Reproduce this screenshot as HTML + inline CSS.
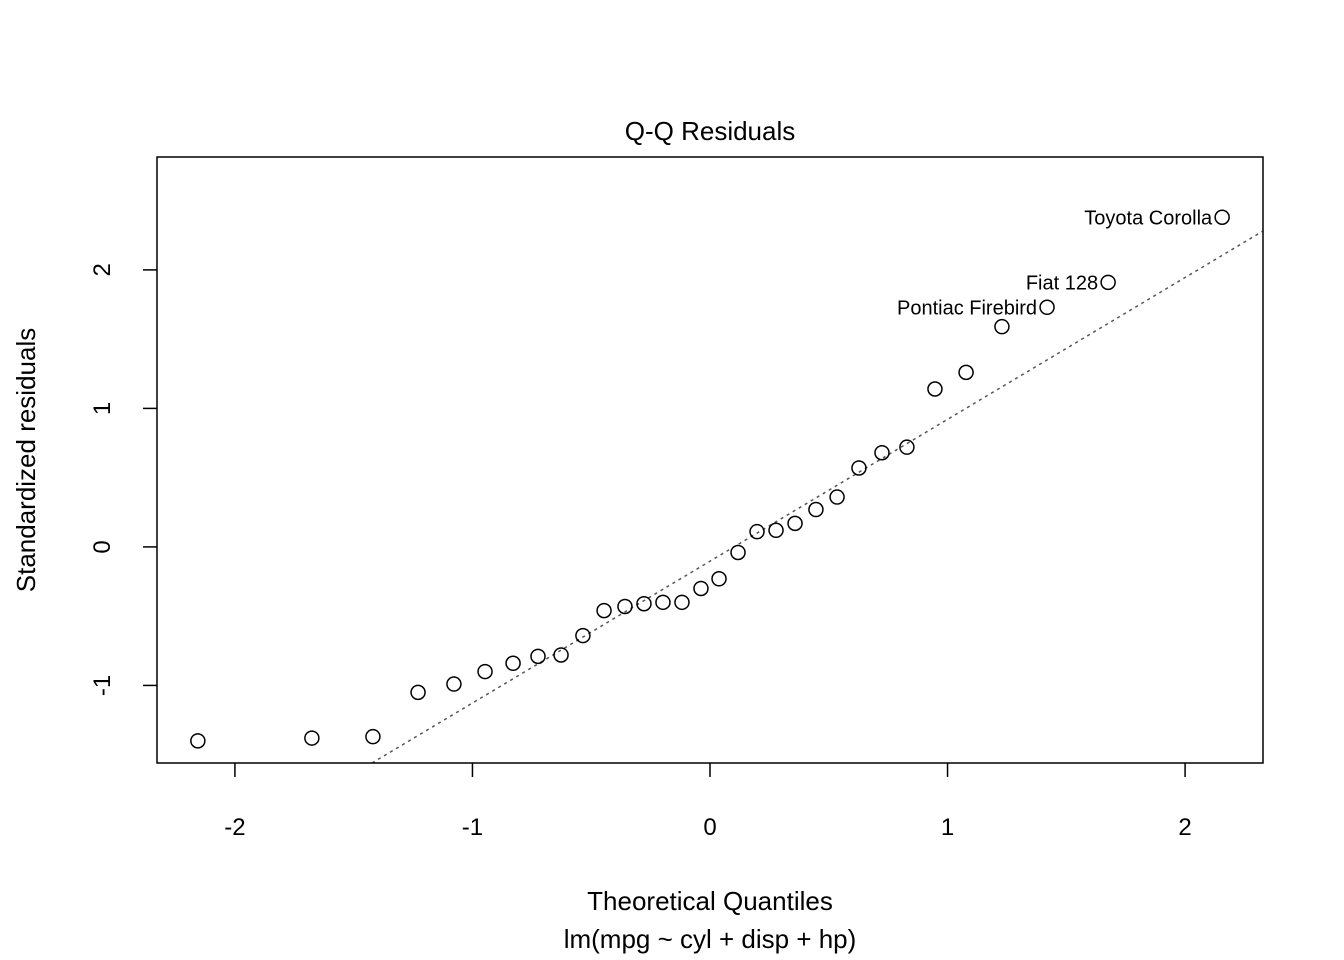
<!DOCTYPE html>
<html><head><meta charset="utf-8"><style>
html,body{margin:0;padding:0;background:#fff}
svg{display:block;font-family:"Liberation Sans",Arial,sans-serif}
</style></head><body>
<svg id="chart" width="1344" height="960" xmlns="http://www.w3.org/2000/svg">
<rect x="0" y="0" width="1344" height="960" fill="#fff"/>
<text x="710" y="140" font-size="26" text-anchor="middle">Q-Q Residuals</text>
<text x="710" y="910" font-size="26" text-anchor="middle">Theoretical Quantiles</text>
<text x="710" y="948" font-size="26" text-anchor="middle">lm(mpg ~ cyl + disp + hp)</text>
<text transform="translate(35,460) rotate(-90)" font-size="26" text-anchor="middle">Standardized residuals</text>
<g id="marks"></g>
<rect x="157" y="157" width="1106" height="606" fill="none" stroke="#000" stroke-width="1.5"/>
</svg>
<script>
const xQuantiles=[-2.156,-1.676,-1.419,-1.229,-1.078,-0.947,-0.829,-0.724,-0.627,-0.535,-0.446,-0.358,-0.278,-0.198,-0.118,-0.038,0.038,0.118,0.198,0.278,0.358,0.446,0.535,0.627,0.724,0.829,0.947,1.078,1.229,1.419,1.676,2.156];
const yResiduals=[-1.40,-1.38,-1.37,-1.05,-0.99,-0.90,-0.84,-0.79,-0.78,-0.64,-0.46,-0.43,-0.41,-0.40,-0.40,-0.30,-0.23,-0.04,0.11,0.12,0.17,0.27,0.36,0.57,0.68,0.72,1.14,1.26,1.59,1.73,1.91,2.38];
const pointLabels={29:"Pontiac Firebird",30:"Fiat 128",31:"Toyota Corolla"};
const xTicks=[-2,-1,0,1,2];
const yTicks=[-1,0,1,2];
const lineSlope=1.024, lineIntercept=-0.103;
const X0=157,X1=1263,Y0=763,Y1=157,xMin=-2.328,xMax=2.328,yMin=-1.56,yMax=2.815;
const sx=v=>X0+(v-xMin)/(xMax-xMin)*(X1-X0);
const sy=v=>Y0-(v-yMin)/(yMax-yMin)*(Y0-Y1);
const NS="http://www.w3.org/2000/svg";
const g=document.getElementById('marks');
function mk(t,a){const e=document.createElementNS(NS,t);for(const k in a)e.setAttribute(k,a[k]);g.appendChild(e);return e;}
xTicks.forEach(t=>{
  const l=mk('line',{x1:sx(t),x2:sx(t),y1:763,y2:777,stroke:'#000','stroke-width':1.5});
  
  
  const tx=mk('text',{x:sx(t),y:835,'font-size':24,'text-anchor':'middle'});tx.textContent=t;
  
  
});
yTicks.forEach(t=>{
  const l=mk('line',{x1:143,x2:157,y1:sy(t),y2:sy(t),stroke:'#000','stroke-width':1.5});
  
  
  const tx=mk('text',{transform:`translate(110,${sy(t)}) rotate(-90)`,'font-size':24,'text-anchor':'middle'});tx.textContent=t;
  
  
});
// reference line clipped to frame
let xa=(yMin-lineIntercept)/lineSlope, xb=xMax;
const rl=mk('line',{x1:sx(xa),y1:sy(yMin),x2:sx(xb),y2:sy(lineSlope*xb+lineIntercept),stroke:'#555','stroke-width':1.5,'stroke-dasharray':'3,4'});


xQuantiles.forEach((xv,i)=>{
  const c=mk('circle',{cx:sx(xv),cy:sy(yResiduals[i]),r:7,fill:'none',stroke:'#000','stroke-width':1.5});
  
  
  if(pointLabels[i]){
    const tx=mk('text',{x:sx(xv)-10,y:sy(yResiduals[i])+7,'font-size':20,'text-anchor':'end'});tx.textContent=pointLabels[i];
    
    
  }
});
</script>
</body></html>
